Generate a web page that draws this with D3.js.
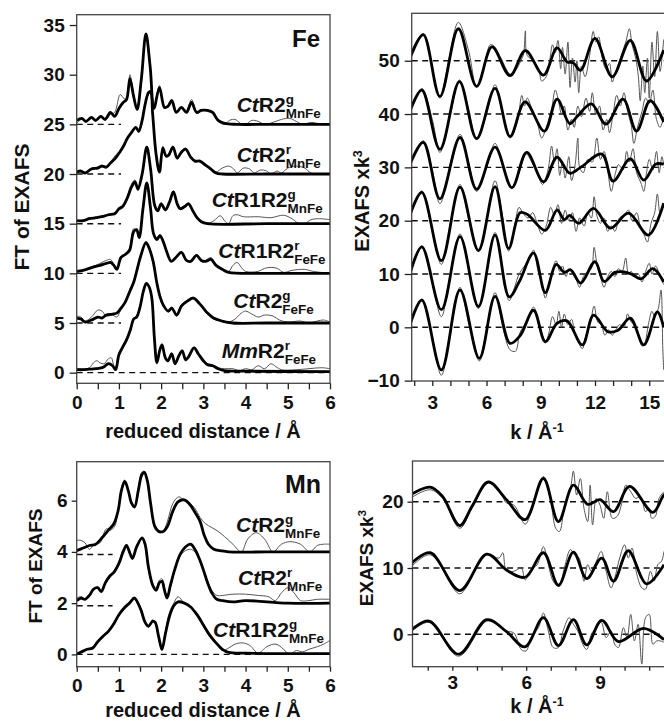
<!DOCTYPE html>
<html><head><meta charset="utf-8">
<script src="https://cdn.jsdelivr.net/npm/d3@7"></script>
<style>
body{margin:0;background:#fff}
text{font-family:"Liberation Sans",Arial,Helvetica,sans-serif;font-weight:bold;fill:#111}
</style></head><body>
<svg id="c" width="664" height="721"></svg>
<script>
// ---------- Fe FT (r in Å, amplitude incl. offset) ----------
const feFtOffsets = [25, 20, 15, 10, 5, 0];
const feFtLabels = [
  [["Ct","i"],["R2","n"],["g","sup"],["MnFe","sub"]],
  [["Ct","i"],["R2","n"],["r","sup"],["MnFe","sub"]],
  [["Ct","i"],["R1R2","n"],["g","sup"],["MnFe","sub"]],
  [["Ct","i"],["R1R2","n"],["r","sup"],["FeFe","sub"]],
  [["Ct","i"],["R2","n"],["g","sup"],["FeFe","sub"]],
  [["Mm","i"],["R2","n"],["r","sup"],["FeFe","sub"]]
];
const feFtFit1 = [[0,25.4],[0.12,25.6],[0.22,25.3],[0.35,25.7],[0.45,25.4],[0.57,25.8],[0.67,25.5],[0.8,26.2],[0.9,25.8],[1.0,26.6],[1.1,27.2],[1.18,27.5],[1.26,29.6],[1.34,28.0],[1.43,26.5],[1.53,29.5],[1.64,34.1],[1.74,30.8],[1.83,26.6],[1.96,28.7],[2.08,26.7],[2.16,26.8],[2.25,27.4],[2.36,26.2],[2.48,26.7],[2.6,26.2],[2.72,27.2],[2.84,26.2],[2.95,26.4],[3.1,26.4],[3.22,26.2],[3.35,25.4],[3.5,25.1],[3.8,25.0],[4.5,25.0],[5.2,25.0],[6.0,25.0]];
const feFtData1 = [[0,25.1],[0.12,25.5],[0.22,25.2],[0.35,25.6],[0.45,25.3],[0.57,25.9],[0.67,25.4],[0.8,26.0],[0.9,26.2],[1.03,28.0],[1.12,27.6],[1.18,27.6],[1.26,30.0],[1.34,28.2],[1.43,26.4],[1.53,29.3],[1.64,34.0],[1.74,30.6],[1.83,26.8],[1.96,28.9],[2.08,26.8],[2.16,26.9],[2.25,27.3],[2.36,26.3],[2.48,26.7],[2.6,26.4],[2.72,27.5],[2.84,26.3],[2.95,26.5],[3.1,26.3],[3.22,26.1],[3.35,25.3],[3.5,25.0],[3.62,25.4],[3.75,25.5],[3.88,25.1],[4.0,25.0],[4.15,25.4],[4.3,25.3],[4.45,25.0],[4.65,25.2],[4.85,25.5],[5.05,25.6],[5.2,25.3],[5.35,25.0],[5.55,25.2],[5.7,25.1],[5.85,24.95],[6.0,25.0]];
const feFtFit2 = [[0,20.2],[0.1,20.3],[0.2,20.1],[0.35,20.5],[0.5,20.6],[0.6,20.8],[0.7,20.7],[0.8,21.1],[0.92,21.6],[1.02,22.2],[1.12,22.9],[1.2,23.6],[1.3,24.2],[1.4,24.7],[1.47,24.3],[1.55,25.4],[1.62,27.0],[1.7,28.2],[1.75,28.3],[1.8,26.0],[1.88,22.0],[1.96,20.2],[2.04,22.6],[2.12,21.8],[2.18,21.9],[2.28,22.7],[2.38,21.6],[2.48,22.2],[2.58,22.5],[2.7,21.7],[2.8,21.3],[2.92,21.3],[3.05,20.9],[3.18,20.5],[3.3,20.1],[3.45,20.0],[4.5,20.0],[6.0,20.0]];
const feFtData2 = [[0,20.3],[0.2,20.2],[0.35,20.6],[0.5,20.7],[0.6,20.9],[0.7,20.6],[0.8,21.2],[0.92,21.9],[1.02,22.3],[1.12,23.0],[1.2,23.5],[1.3,24.3],[1.4,24.6],[1.47,24.2],[1.55,25.3],[1.62,26.9],[1.7,28.0],[1.75,28.2],[1.8,26.1],[1.88,22.1],[1.96,20.4],[2.04,22.8],[2.12,21.7],[2.18,22.0],[2.28,22.8],[2.38,21.5],[2.48,22.3],[2.58,22.6],[2.7,21.6],[2.8,21.4],[2.92,21.2],[3.05,21.0],[3.18,20.5],[3.3,20.2],[3.45,20.6],[3.6,20.8],[3.72,20.5],[3.8,20.1],[3.95,20.6],[4.1,20.5],[4.2,20.1],[4.35,20.4],[4.5,20.3],[4.6,20.0],[4.75,20.3],[4.85,20.1],[5.0,20.6],[5.2,20.8],[5.4,20.6],[5.55,20.1],[5.75,20.05],[6.0,20.0]];
const feFtFit3 = [[0,15.3],[0.15,15.3],[0.3,15.5],[0.45,15.6],[0.6,15.7],[0.75,15.9],[0.9,16.0],[1.0,16.5],[1.1,16.8],[1.2,17.6],[1.3,18.7],[1.38,19.2],[1.45,18.5],[1.55,20.0],[1.66,22.7],[1.75,20.5],[1.85,16.8],[1.92,16.3],[2.0,17.0],[2.1,16.4],[2.2,17.2],[2.29,18.2],[2.38,17.0],[2.45,16.5],[2.55,16.7],[2.65,17.0],[2.75,16.3],[2.85,15.6],[2.95,15.2],[3.1,15.0],[4.5,15.0],[6.0,15.0]];
const feFtData3 = [[0,15.2],[0.15,15.3],[0.3,15.6],[0.45,15.5],[0.6,15.8],[0.75,15.8],[0.9,16.1],[1.0,16.4],[1.1,16.6],[1.2,17.8],[1.3,19.0],[1.38,19.4],[1.45,18.3],[1.55,20.1],[1.66,22.6],[1.75,20.4],[1.85,16.9],[1.92,16.4],[2.0,17.1],[2.1,16.3],[2.2,17.3],[2.29,18.3],[2.38,16.9],[2.45,16.6],[2.55,16.8],[2.65,17.1],[2.75,16.2],[2.85,15.6],[2.95,15.3],[3.1,15.05],[3.25,15.3],[3.4,15.8],[3.52,15.2],[3.6,15.0],[3.7,15.8],[3.8,15.9],[3.95,15.7],[4.3,15.7],[4.6,15.6],[4.9,15.85],[5.1,15.5],[5.25,15.05],[5.4,15.0],[5.55,15.4],[5.75,15.5],[6.0,15.4]];
const feFtFit4 = [[0,10.2],[0.15,10.3],[0.3,10.5],[0.45,10.7],[0.55,10.8],[0.7,11.0],[0.8,11.1],[0.88,10.8],[0.95,10.4],[1.05,11.6],[1.15,11.9],[1.25,12.3],[1.35,14.2],[1.42,14.4],[1.48,13.6],[1.57,16.5],[1.66,19.1],[1.75,16.5],[1.82,14.0],[1.9,13.4],[1.97,13.8],[2.05,13.2],[2.13,12.2],[2.24,11.2],[2.35,11.6],[2.48,12.1],[2.6,11.3],[2.7,11.2],[2.84,11.8],[2.95,11.3],[3.05,11.2],[3.18,11.4],[3.3,10.8],[3.45,10.4],[3.6,10.1],[4.5,10.0],[6.0,10.0]];
const feFtData4 = [[0,10.1],[0.15,10.3],[0.3,10.6],[0.45,10.8],[0.55,11.0],[0.7,11.3],[0.8,11.4],[0.88,10.9],[0.95,10.4],[1.05,11.5],[1.15,12.0],[1.25,12.5],[1.35,14.5],[1.42,14.3],[1.48,13.5],[1.57,16.6],[1.66,19.0],[1.75,16.4],[1.82,14.1],[1.9,13.6],[1.97,13.9],[2.05,13.1],[2.13,12.1],[2.24,11.3],[2.35,11.7],[2.48,12.2],[2.6,11.2],[2.7,11.3],[2.84,11.9],[2.95,11.2],[3.05,11.3],[3.18,11.6],[3.3,10.9],[3.45,10.5],[3.6,10.2],[3.7,10.8],[3.8,11.1],[3.9,10.6],[4.0,10.2],[4.3,10.2],[4.45,10.5],[4.6,10.6],[4.75,10.5],[4.9,10.1],[5.1,10.3],[5.4,10.4],[5.6,10.2],[6.0,10.0]];
const feFtFit5 = [[0,5.5],[0.1,5.4],[0.2,5.1],[0.35,5.3],[0.5,5.6],[0.6,5.5],[0.7,5.8],[0.85,5.9],[0.95,6.0],[1.05,6.5],[1.15,7.1],[1.26,8.2],[1.35,9.1],[1.42,10.2],[1.52,11.8],[1.64,13.1],[1.72,12.5],[1.81,11.2],[1.9,9.0],[1.97,7.7],[2.05,6.8],[2.17,6.2],[2.25,6.5],[2.37,5.8],[2.48,6.7],[2.62,7.2],[2.76,7.5],[2.9,7.0],[3.0,6.5],[3.1,6.0],[3.24,5.5],[3.44,5.2],[3.7,5.0],[4.5,5.0],[6.0,5.0]];
const feFtData5 = [[0,5.7],[0.1,5.6],[0.2,5.2],[0.35,5.6],[0.5,6.3],[0.6,6.2],[0.7,5.7],[0.85,5.8],[0.95,5.6],[1.05,6.4],[1.15,7.2],[1.26,8.4],[1.35,9.2],[1.42,10.3],[1.52,11.9],[1.64,13.2],[1.72,12.6],[1.81,11.1],[1.9,9.1],[1.97,7.9],[2.05,7.0],[2.17,6.1],[2.25,6.6],[2.37,5.7],[2.48,6.8],[2.62,7.3],[2.76,7.6],[2.9,7.1],[3.0,6.4],[3.1,5.9],[3.24,5.4],[3.44,5.2],[3.6,5.1],[3.75,5.4],[3.9,6.0],[4.0,6.2],[4.15,5.9],[4.3,5.6],[4.45,5.8],[4.65,5.7],[4.8,5.3],[5.0,5.1],[5.3,5.2],[5.5,5.0],[5.7,5.2],[5.85,5.3],[6.0,5.1]];
const feFtFit6 = [[0,0.3],[0.15,0.3],[0.3,0.35],[0.45,0.4],[0.55,0.45],[0.65,0.6],[0.75,0.9],[0.85,0.7],[0.92,0.3],[1.0,1.8],[1.08,2.5],[1.18,3.3],[1.27,4.3],[1.35,5.4],[1.42,5.6],[1.5,6.6],[1.58,8.2],[1.65,9.0],[1.72,8.6],[1.78,7.5],[1.84,3.5],[1.9,1.0],[1.97,2.3],[2.02,2.8],[2.1,1.5],[2.16,1.2],[2.25,1.9],[2.33,0.9],[2.42,1.7],[2.5,2.2],[2.58,1.3],[2.65,1.6],[2.78,2.5],[2.88,1.9],[3.0,1.2],[3.1,0.8],[3.22,0.7],[3.35,0.4],[3.5,0.2],[4.0,0.15],[6.0,0.1]];
const feFtData6 = [[0,0.4],[0.15,0.35],[0.3,0.5],[0.4,1.0],[0.48,1.2],[0.55,1.0],[0.65,0.9],[0.75,1.4],[0.82,1.5],[0.9,0.3],[1.0,1.9],[1.08,2.6],[1.18,3.4],[1.27,4.4],[1.35,5.5],[1.42,5.7],[1.5,6.7],[1.58,8.1],[1.65,8.9],[1.72,8.5],[1.78,7.4],[1.84,3.6],[1.9,1.1],[1.97,2.4],[2.02,2.9],[2.1,1.6],[2.16,1.1],[2.25,2.0],[2.33,0.8],[2.42,1.8],[2.5,2.3],[2.58,1.2],[2.65,1.7],[2.78,2.6],[2.88,1.8],[3.0,1.1],[3.1,0.9],[3.22,0.8],[3.35,0.5],[3.5,0.4],[3.7,0.4],[3.85,0.2],[4.0,0.4],[4.15,0.3],[4.3,0.7],[4.45,0.4],[4.6,0.9],[4.72,0.6],[4.85,0.3],[5.2,0.3],[5.5,0.4],[5.8,0.5],[6.0,0.4]];

// ---------- Fe EXAFS (k in 1/Å, k^3 chi incl. offset) ----------
const feExOffsets = [50, 40, 30, 20, 10, 0];
const feExFit1 = [[1.77,50.5],[2.5,54.9],[3.42,43.3],[4.44,56.0],[5.45,45.2],[6.3,52.6],[7.3,47.2],[8.15,51.9],[9.15,47.3],[9.9,52.4],[10.45,49.8],[10.8,49.6],[11.2,48.2],[12.0,54.2],[12.95,47.0],[13.95,53.8],[14.85,46.2],[15.8,52.0]];
const feExData1 = [[1.77,51.0],[2.1,53.5],[2.5,55.0],[2.9,50.5],[3.42,43.0],[3.9,50.0],[4.44,57.2],[5.0,52.0],[5.45,45.0],[5.9,49.5],[6.2,53.0],[6.4,52.8],[6.8,50.5],[7.3,47.5],[7.6,48.2],[7.9,50.0],[8.05,51.3],[8.15,55.6],[8.25,51.0],[8.6,50.0],[8.9,48.2],[9.05,46.2],[9.3,47.0],[9.5,50.2],[9.65,53.0],[9.8,51.5],[9.95,53.8],[10.1,48.5],[10.2,52.5],[10.35,47.5],[10.5,53.5],[10.62,45.0],[10.75,50.5],[10.9,46.0],[11.0,50.0],[11.1,44.0],[11.25,49.0],[11.45,47.0],[11.7,51.0],[11.9,55.5],[12.05,53.5],[12.2,54.5],[12.4,50.5],[12.6,48.5],[12.8,49.5],[12.95,46.0],[13.15,48.0],[13.4,50.5],[13.7,53.5],[13.9,56.0],[14.05,53.0],[14.25,50.5],[14.4,47.0],[14.5,42.5],[14.65,49.0],[14.75,44.0],[14.9,50.5],[15.0,43.0],[15.15,53.5],[15.3,47.0],[15.45,55.5],[15.6,48.0],[15.8,54.0]];
const feExFit2 = [[1.77,40.6],[2.42,44.5],[3.42,33.4],[4.5,46.1],[5.45,35.4],[6.47,44.8],[7.3,35.8],[8.13,42.3],[9.2,36.8],[9.9,42.8],[10.6,38.2],[11.0,39.5],[11.8,41.9],[12.6,38.1],[13.55,42.8],[14.3,36.8],[15.05,42.5],[15.8,38.5]];
const feExData2 = [[1.77,40.4],[2.42,44.8],[3.0,39.0],[3.42,32.8],[4.0,40.0],[4.5,46.4],[5.0,41.0],[5.45,35.2],[6.0,40.0],[6.47,45.5],[6.9,40.0],[7.3,35.5],[7.7,38.5],[7.95,43.5],[8.1,41.5],[8.25,43.0],[8.5,41.0],[8.8,38.5],[9.05,35.5],[9.3,37.5],[9.6,41.0],[9.8,44.5],[9.95,43.0],[10.15,40.0],[10.3,41.5],[10.5,37.0],[10.7,39.0],[10.85,37.5],[11.05,41.5],[11.25,39.5],[11.5,43.0],[11.7,40.5],[11.85,44.0],[12.05,40.0],[12.25,41.5],[12.45,37.0],[12.65,39.0],[12.8,36.5],[13.0,40.0],[13.2,43.5],[13.4,41.5],[13.6,44.0],[13.8,40.5],[14.0,38.0],[14.15,34.5],[14.35,37.5],[14.6,40.5],[14.8,43.0],[15.0,42.0],[15.2,44.5],[15.4,39.0],[15.6,37.5],[15.8,39.5]];
const feExFit3 = [[1.77,30.6],[2.5,34.7],[3.42,24.1],[4.53,35.6],[5.45,25.9],[6.47,33.8],[7.4,26.2],[8.22,32.8],[9.15,27.3],[9.9,31.9],[10.6,28.9],[11.2,30.0],[12.38,32.5],[13.0,27.4],[13.95,31.6],[14.7,27.6],[15.35,30.6],[15.8,30.6]];
const feExData3 = [[1.77,30.8],[2.5,35.0],[3.0,29.5],[3.42,23.2],[4.0,30.0],[4.53,36.2],[5.0,31.0],[5.45,25.5],[6.0,30.0],[6.47,34.5],[7.0,29.0],[7.4,26.0],[7.8,29.0],[8.2,32.5],[8.5,31.0],[8.8,29.0],[9.1,26.8],[9.4,29.5],[9.6,34.0],[9.75,31.0],[9.9,33.5],[10.05,28.5],[10.2,31.0],[10.35,28.0],[10.55,32.0],[10.7,27.5],[10.9,30.5],[11.05,35.5],[11.15,30.0],[11.35,29.0],[11.6,31.5],[11.85,31.0],[12.1,35.5],[12.3,31.5],[12.5,33.0],[12.7,29.5],[12.9,25.5],[13.1,28.5],[13.3,30.5],[13.55,29.5],[13.75,33.0],[13.9,31.0],[14.1,33.5],[14.3,29.0],[14.55,27.0],[14.7,25.5],[14.85,29.0],[15.0,31.5],[15.2,29.5],[15.4,33.0],[15.55,29.0],[15.7,32.0],[15.8,30.5]];
const feExFit4 = [[1.77,21.1],[2.42,25.3],[3.5,12.5],[4.53,26.3],[5.55,14.4],[6.47,26.4],[7.22,14.8],[7.85,21.5],[8.25,21.2],[9.25,18.2],[9.9,22.0],[10.3,20.2],[10.6,21.0],[11.1,19.5],[11.92,22.3],[12.85,18.6],[13.85,21.4],[14.95,17.3],[15.8,23.3]];
const feExData4 = [[1.77,21.0],[2.42,25.6],[3.0,18.0],[3.5,11.8],[4.0,19.5],[4.53,26.8],[5.0,20.5],[5.55,14.2],[6.0,20.0],[6.47,27.5],[6.9,20.5],[7.22,14.3],[7.5,18.0],[7.8,22.5],[8.0,21.5],[8.3,20.5],[8.55,21.5],[8.8,19.5],[9.05,17.5],[9.3,19.0],[9.55,22.5],[9.75,21.0],[9.95,23.0],[10.15,19.5],[10.35,22.0],[10.55,20.0],[10.75,21.5],[10.95,18.0],[11.15,20.5],[11.4,19.0],[11.6,21.5],[11.8,20.5],[11.95,24.5],[12.1,21.0],[12.3,19.5],[12.5,20.5],[12.7,18.0],[12.9,19.0],[13.1,18.0],[13.35,20.5],[13.6,21.0],[13.85,22.0],[14.05,20.0],[14.3,21.5],[14.5,19.0],[14.7,17.5],[14.9,16.0],[15.1,19.5],[15.3,21.5],[15.45,25.0],[15.6,21.5],[15.8,23.0]];
const feExFit5 = [[1.77,10.1],[2.42,15.1],[3.5,3.3],[4.53,17.0],[5.55,3.9],[6.47,17.3],[7.25,5.7],[7.8,8.5],[8.6,13.9],[9.25,6.5],[9.85,11.8],[10.3,10.3],[10.65,10.8],[11.2,8.3],[12.0,12.3],[12.5,8.6],[13.1,10.3],[13.6,10.4],[14.0,10.0],[14.55,9.1],[15.2,11.0],[15.8,8.5]];
const feExData5 = [[1.77,10.0],[2.42,15.3],[3.0,8.5],[3.5,2.0],[4.0,10.0],[4.53,17.5],[5.0,11.0],[5.55,3.5],[6.0,10.0],[6.47,17.8],[6.9,10.5],[7.25,5.0],[7.55,7.5],[7.8,10.0],[8.1,11.5],[8.4,13.0],[8.6,14.5],[8.85,10.5],[9.05,8.5],[9.25,5.5],[9.45,8.0],[9.7,11.5],[9.85,12.5],[10.05,10.5],[10.2,11.5],[10.4,9.5],[10.55,11.0],[10.75,10.0],[10.95,9.0],[11.15,7.5],[11.35,9.5],[11.6,10.5],[11.8,11.0],[11.95,15.0],[12.1,12.0],[12.3,9.5],[12.5,7.5],[12.7,9.5],[12.9,10.5],[13.1,9.5],[13.3,11.0],[13.5,10.5],[13.7,13.0],[13.85,10.0],[14.0,10.5],[14.2,9.5],[14.4,10.0],[14.6,8.5],[14.8,10.5],[15.0,12.0],[15.15,10.0],[15.35,11.5],[15.55,10.0],[15.8,8.0]];
const feExFit6 = [[1.77,0.5],[2.42,5.1],[3.5,-8.0],[4.53,7.0],[5.6,-5.8],[6.47,5.8],[7.3,-3.0],[7.85,-1.6],[8.6,3.2],[9.25,-2.7],[9.9,0.75],[10.45,1.2],[11.3,-3.3],[11.92,2.3],[12.7,-0.8],[13.25,-0.6],[13.95,1.7],[14.7,-3.3],[15.45,2.9],[15.8,0.0]];
const feExData6 = [[1.77,0.3],[2.42,5.3],[3.0,-2.0],[3.5,-9.0],[4.0,-1.0],[4.53,7.5],[5.0,1.0],[5.6,-6.3],[6.0,-1.0],[6.47,6.5],[6.9,0.0],[7.3,-4.2],[7.6,-4.5],[7.85,-1.0],[8.2,1.0],[8.6,3.8],[8.85,1.5],[9.05,-1.0],[9.25,-3.0],[9.45,-1.0],[9.65,2.0],[9.85,0.5],[10.0,3.0],[10.15,0.0],[10.3,2.5],[10.5,0.5],[10.7,1.5],[10.9,-1.5],[11.1,-3.0],[11.3,-4.0],[11.5,-1.5],[11.75,1.0],[11.95,4.0],[12.15,1.0],[12.35,0.5],[12.55,-1.5],[12.75,-0.5],[12.95,-1.5],[13.15,-0.5],[13.35,0.5],[13.6,0.0],[13.8,2.5],[14.0,1.0],[14.2,0.5],[14.4,-1.5],[14.6,-3.5],[14.75,-3.0],[14.95,0.5],[15.15,3.0],[15.3,2.0],[15.5,3.5],[15.65,7.0],[15.75,-4.0],[15.8,-8.0]];

// ---------- Mn FT ----------
const mnFtOffsets = [3.9, 1.9, 0];
const mnFtLabels = [
  [["Ct","i"],["R2","n"],["g","sup"],["MnFe","sub"]],
  [["Ct","i"],["R2","n"],["r","sup"],["MnFe","sub"]],
  [["Ct","i"],["R1R2","n"],["g","sup"],["MnFe","sub"]]
];
const mnFtFit1 = [[0,4.05],[0.15,4.15],[0.3,4.25],[0.45,4.3],[0.6,4.55],[0.75,4.85],[0.88,5.1],[0.98,5.6],[1.06,6.4],[1.14,6.75],[1.22,6.4],[1.3,5.9],[1.37,5.75],[1.46,6.4],[1.54,7.0],[1.6,7.1],[1.67,6.8],[1.75,5.9],[1.85,5.0],[1.95,4.8],[2.05,4.8],[2.15,5.0],[2.28,5.6],[2.4,5.95],[2.55,6.03],[2.68,5.85],[2.8,5.55],[2.92,5.2],[3.02,4.65],[3.12,4.3],[3.25,4.1],[3.4,4.05],[3.6,4.0],[4.5,4.0],[6.0,4.0]];
const mnFtData1 = [[0,4.45],[0.1,4.45],[0.2,4.35],[0.3,4.1],[0.42,4.3],[0.55,4.35],[0.7,4.9],[0.8,4.85],[0.9,5.0],[0.98,5.6],[1.06,6.5],[1.13,6.8],[1.22,6.4],[1.3,5.85],[1.37,5.8],[1.46,6.5],[1.54,7.1],[1.6,7.15],[1.67,6.85],[1.75,5.9],[1.85,4.9],[1.95,4.75],[2.05,4.8],[2.15,5.2],[2.28,5.9],[2.42,6.15],[2.55,6.0],[2.68,5.9],[2.8,5.7],[2.92,5.35],[3.05,5.1],[3.2,4.95],[3.35,4.8],[3.5,4.6],[3.7,4.3],[3.9,4.0],[4.05,4.5],[4.25,4.75],[4.45,4.5],[4.65,4.0],[4.85,4.3],[5.05,4.4],[5.3,4.3],[5.52,4.0],[5.7,4.25],[5.85,4.3],[6.0,4.3]];
const mnFtFit2 = [[0,2.1],[0.1,2.2],[0.2,2.15],[0.3,2.3],[0.4,2.55],[0.5,2.6],[0.58,2.45],[0.68,2.8],[0.78,3.05],[0.88,3.2],[1.0,3.55],[1.1,4.0],[1.18,4.25],[1.26,3.95],[1.32,3.75],[1.42,4.2],[1.55,4.55],[1.62,4.3],[1.7,3.4],[1.8,2.7],[1.88,2.5],[1.96,2.8],[2.02,2.85],[2.08,2.5],[2.14,2.2],[2.22,2.7],[2.32,3.3],[2.45,3.9],[2.58,4.2],[2.7,4.3],[2.8,4.1],[2.9,3.75],[3.0,3.3],[3.1,2.8],[3.2,2.4],[3.32,2.15],[3.45,2.1],[3.7,2.05],[4.0,2.1],[5.0,2.0],[6.0,2.0]];
const mnFtData2 = [[0,2.2],[0.1,2.25],[0.2,2.15],[0.3,2.35],[0.4,2.5],[0.5,2.65],[0.58,2.5],[0.68,2.75],[0.78,3.0],[0.88,3.25],[1.0,3.6],[1.1,4.1],[1.18,4.2],[1.26,3.9],[1.32,3.7],[1.42,4.25],[1.55,4.5],[1.62,4.2],[1.7,3.3],[1.8,2.7],[1.88,2.6],[1.96,2.9],[2.02,2.95],[2.08,2.6],[2.14,2.25],[2.22,2.6],[2.32,3.3],[2.45,3.85],[2.58,4.05],[2.7,4.1],[2.8,4.0],[2.9,3.7],[3.0,3.3],[3.1,2.85],[3.2,2.5],[3.32,2.3],[3.45,2.3],[3.7,2.35],[4.0,2.35],[4.3,2.3],[4.55,2.25],[4.7,2.1],[4.85,2.4],[5.0,2.6],[5.15,2.4],[5.3,2.1],[5.5,2.1],[5.7,2.15],[6.0,2.15]];
const mnFtFit3 = [[0,0.02],[0.12,0.1],[0.25,0.2],[0.38,0.25],[0.5,0.5],[0.62,0.7],[0.75,0.9],[0.88,1.2],[1.0,1.55],[1.12,1.8],[1.25,2.0],[1.37,2.2],[1.45,2.0],[1.53,1.7],[1.62,1.25],[1.7,1.1],[1.8,1.3],[1.86,1.25],[1.94,0.7],[2.02,0.2],[2.1,0.8],[2.2,1.5],[2.3,1.9],[2.4,2.05],[2.55,2.0],[2.7,1.85],[2.85,1.55],[3.0,1.15],[3.15,0.75],[3.3,0.45],[3.45,0.2],[3.6,0.08],[4.0,0.05],[6.0,0.03]];
const mnFtData3 = [[0,0.0],[0.12,0.15],[0.25,0.2],[0.38,0.3],[0.5,0.45],[0.62,0.75],[0.75,0.9],[0.88,1.25],[1.0,1.5],[1.12,1.85],[1.25,2.05],[1.37,2.15],[1.45,2.0],[1.53,1.6],[1.62,1.2],[1.7,1.05],[1.8,1.35],[1.86,1.2],[1.94,0.65],[2.02,0.15],[2.1,0.9],[2.2,1.65],[2.3,2.0],[2.4,2.25],[2.55,2.0],[2.7,1.85],[2.85,1.6],[3.0,1.2],[3.15,0.8],[3.3,0.45],[3.45,0.15],[3.6,0.25],[3.75,0.4],[3.93,0.45],[4.1,0.35],[4.3,0.05],[4.5,0.3],[4.72,0.4],[4.9,0.2],[5.04,0.0],[5.2,0.15],[5.35,0.1],[5.5,0.2],[5.7,0.3],[5.85,0.4],[6.0,0.55]];

// ---------- Mn EXAFS ----------
const mnExOffsets = [20, 10, 0];
const mnExFit1 = [[1.28,21.0],[2.1,22.2],[2.6,20.8],[3.3,16.4],[3.8,19.3],[4.46,23.0],[5.2,20.3],[5.96,17.3],[6.7,23.5],[7.31,17.0],[7.92,22.5],[8.5,19.6],[9.0,20.3],[9.55,18.5],[10.2,22.3],[11.15,18.4],[11.6,21.0],[12.0,22.0]];
const mnExData1 = [[1.28,20.5],[2.1,21.8],[2.6,20.5],[3.3,16.0],[3.8,19.0],[4.46,22.8],[5.0,21.0],[5.2,19.8],[5.5,19.5],[5.96,16.6],[6.2,18.5],[6.7,23.8],[7.0,20.0],[7.2,16.0],[7.35,15.5],[7.55,19.0],[7.8,22.0],[7.92,24.6],[8.05,21.0],[8.2,23.5],[8.35,19.0],[8.5,17.0],[8.6,22.5],[8.7,16.5],[8.85,20.5],[9.0,19.5],[9.15,17.5],[9.3,21.5],[9.5,17.5],[9.7,17.8],[9.9,20.0],[10.05,22.5],[10.25,21.5],[10.45,20.5],[10.65,20.8],[10.85,18.5],[11.0,19.0],[11.1,17.5],[11.25,17.8],[11.4,20.5],[11.6,21.5]];
const mnExFit2 = [[1.28,10.5],[2.1,12.3],[3.3,6.6],[4.4,12.1],[5.2,9.7],[5.96,8.6],[6.7,12.3],[7.31,7.4],[7.92,12.4],[8.46,8.4],[9.07,11.5],[9.55,8.0],[10.15,12.6],[10.9,7.6],[11.6,10.5]];
const mnExData2 = [[1.28,10.0],[2.1,12.0],[3.3,6.1],[3.8,9.0],[4.4,12.0],[4.9,11.5],[5.05,12.3],[5.2,9.5],[5.5,9.5],[5.8,10.0],[5.96,8.2],[6.2,9.8],[6.45,10.5],[6.7,13.2],[6.9,10.5],[7.1,8.0],[7.35,7.2],[7.55,10.0],[7.8,12.8],[7.95,12.0],[8.15,11.5],[8.35,8.0],[8.5,10.5],[8.65,9.5],[8.85,11.0],[9.05,12.5],[9.25,9.5],[9.45,7.0],[9.6,8.5],[9.8,11.5],[10.0,13.5],[10.15,11.5],[10.3,13.0],[10.5,9.0],[10.7,7.0],[10.85,6.8],[11.05,9.5],[11.2,8.0],[11.35,10.5],[11.5,11.0],[11.6,12.5]];
const mnExFit3 = [[1.28,0.5],[2.05,2.0],[3.25,-3.0],[4.4,2.2],[5.2,0.4],[5.95,-1.9],[6.7,2.5],[7.31,-1.7],[7.92,2.2],[8.46,-1.6],[9.07,2.1],[9.75,-1.1],[10.77,0.9],[11.6,-0.8]];
const mnExData3 = [[1.28,0.2],[2.05,1.8],[3.25,-3.3],[4.4,2.0],[4.9,1.3],[5.2,0.5],[5.5,0.2],[5.8,-2.3],[6.0,-2.5],[6.2,-0.5],[6.5,1.0],[6.7,3.2],[6.9,0.5],[7.1,-2.0],[7.31,-2.0],[7.5,0.5],[7.75,2.5],[7.92,1.5],[8.1,0.5],[8.3,-1.5],[8.46,-2.3],[8.65,0.0],[8.85,1.0],[9.05,1.8],[9.25,-0.5],[9.45,0.5],[9.6,-1.5],[9.75,-2.0],[9.95,1.0],[10.1,-0.5],[10.25,3.0],[10.4,-1.0],[10.55,1.5],[10.7,-4.5],[10.85,2.5],[11.0,3.0],[11.15,-1.5],[11.3,-1.0],[11.45,-1.0],[11.6,-1.2]];

// ---------- tick values ----------
const feFtYTicks = [0,5,10,15,20,25,30,35];
const ftXTicks = [0,0.5,1,1.5,2,2.5,3,3.5,4,4.5,5,5.5,6];
const feExYTicks = [-10,0,10,20,30,40,50];
const feExXTicks = [2,3,4,5,6,7,8,9,10,11,12,13,14,15,16];
const feExXLabels = [3,6,9,12,15];
const mnFtYTicks = [0,2,4,6];
const mnExYTicks = [0,10,20];
const mnExXTicks = [2,3,4,5,6,7,8,9,10,11,12];
const mnExXLabels = [3,6,9];

const svg = d3.select('#c');
const defs = svg.append('defs');

function styleLabel(sel, size){ sel.style('font-size', size+'px').style('font-weight','bold').style('font-family','"Liberation Sans",Arial,sans-serif').attr('fill','#111'); }

function drawPanel(p){
  const xs = d3.scaleLinear().domain(p.xd).range([p.x0, p.x1]);
  const ys = d3.scaleLinear().domain(p.yd).range([p.y1, p.y0]);
  const cid = 'clip-' + p.id;
  defs.append('clipPath').attr('id', cid).append('rect')
    .attr('x', p.x0).attr('y', p.y0).attr('width', p.x1 - p.x0).attr('height', p.y1 - p.y0);
  const g = svg.append('g');
  const plot = g.append('g').attr('clip-path', 'url(#' + cid + ')');
  const line = d3.line().x(d => xs(d[0])).y(d => ys(d[1])).curve(d3.curveCatmullRom.alpha(0.5));
  p.dashes.forEach(d => {
    plot.append('line').attr('x1', xs(d[1])).attr('x2', xs(d[2])).attr('y1', ys(d[0])).attr('y2', ys(d[0]))
      .attr('stroke', '#111').attr('stroke-width', 1.4).attr('stroke-dasharray', '6,4.5');
  });
  p.thin.forEach(s => plot.append('path').datum(s).attr('d', line).attr('fill','none').attr('stroke','#555').attr('stroke-width',1.0));
  p.thick.forEach(s => plot.append('path').datum(s).attr('d', line).attr('fill','none').attr('stroke','#000').attr('stroke-width',2.8).attr('stroke-linejoin','round'));
  g.append('rect').attr('x', p.x0).attr('y', p.y0).attr('width', p.x1 - p.x0).attr('height', p.y1 - p.y0)
    .attr('fill','none').attr('stroke','#444').attr('stroke-width',1.3);
  const ya = g.append('g').attr('transform','translate(' + p.x0 + ',0)')
    .call(d3.axisLeft(ys).tickValues(p.yTicks).tickSize(p.yTickLen).tickPadding(p.yPad).tickSizeOuter(0));
  ya.select('.domain').remove();
  ya.selectAll('line').attr('stroke','#222').attr('stroke-width',1.3);
  styleLabel(ya.selectAll('text'), 19);
  const xa = g.append('g').attr('transform','translate(0,' + p.y1 + ')')
    .call(d3.axisBottom(xs).tickValues(p.xTicks).tickSize(p.xTickLen).tickSizeOuter(0)
      .tickFormat(v => p.xLabels.includes(v) ? String(v) : ''));
  xa.select('.domain').remove();
  xa.selectAll('line').attr('stroke','#222').attr('stroke-width',1.3);
  xa.selectAll('text').attr('y', p.xLabelY).attr('dy', null);
  styleLabel(xa.selectAll('text'), 19);
  return {xs, ys, g};
}

function richLabel(x, y, parts, size){
  const t = svg.append('text').attr('x', x).attr('y', y);
  styleLabel(t, size);
  let lastSup = null, shift = 0;
  parts.forEach(pt => {
    const s = t.append('tspan').text(pt[0]);
    if (pt[1] === 'i') s.style('font-style','italic');
    if (pt[1] === 'sup') { s.style('font-size', (size*0.64)+'px').attr('dy', -8 - shift); shift = -8; lastSup = s; }
    else if (pt[1] === 'sub') {
      s.style('font-size', (size*0.64)+'px').attr('dy', 6 - shift); shift = 6;
      if (lastSup) s.attr('dx', -lastSup.node().getComputedTextLength());
    } else if (shift !== 0) { s.attr('dy', -shift); shift = 0; }
  });
  return t;
}

function rotLabel(cx, cy, size, main, sup){
  const t = svg.append('text').attr('transform','translate(' + cx + ',' + cy + ') rotate(-90)')
    .attr('text-anchor','middle').attr('dy','0.36em');
  styleLabel(t, size);
  t.append('tspan').text(main);
  if (sup) t.append('tspan').text(sup).style('font-size',(size*0.62)+'px').attr('dy','-0.55em');
  return t;
}

// ---- Panel A: Fe FT ----
drawPanel({id:'a', x0:76.7, x1:330, y0:14.7, y1:383.3, xd:[0,6], yd:[-1.07,36.04],
  thin:[feFtData1,feFtData2,feFtData3,feFtData4,feFtData5,feFtData6],
  thick:[feFtFit1,feFtFit2,feFtFit3,feFtFit4,feFtFit5,feFtFit6],
  dashes: feFtOffsets.map(o => o === 0 ? [0,0,6] : [o,0,1.05]),
  yTicks:feFtYTicks, yTickLen:7, yPad:5, xTicks:ftXTicks, xLabels:[0,1,2,3,4,5,6], xTickLen:6, xLabelY:25.5});
const feLabelPos = [[236.7,111.7],[236.7,161.7],[211.7,207],[218.3,258],[233.3,308],[221.7,358]];
feFtLabels.forEach((l,i) => richLabel(feLabelPos[i][0], feLabelPos[i][1], l, 21));
{ const t = svg.append('text').attr('x', 320).attr('y', 46.5).attr('text-anchor','end').text('Fe'); styleLabel(t, 24); }
rotLabel(21, 207, 21, 'FT of EXAFS');
{ const t = svg.append('text').attr('x', 203).attr('y', 438).attr('text-anchor','middle').text('reduced distance / Å'); styleLabel(t, 20); }

// ---- Panel B: Fe EXAFS ----
drawPanel({id:'b', x0:411.7, x1:685.4, y0:13.3, y1:381, xd:[1.86,17], yd:[-10.07,58.9],
  thin:[feExData1,feExData2,feExData3,feExData4,feExData5,feExData6],
  thick:[feExFit1,feExFit2,feExFit3,feExFit4,feExFit5,feExFit6],
  dashes: feExOffsets.map(o => [o,1.86,17]),
  yTicks:feExYTicks, yTickLen:7, yPad:5, xTicks:feExXTicks, xLabels:feExXLabels, xTickLen:5, xLabelY:28});
rotLabel(362, 201, 20, 'EXAFS xk', '3');
{ const t = svg.append('text').attr('x', 537).attr('y', 439).attr('text-anchor','middle');
  styleLabel(t, 20); t.append('tspan').text('k / Å'); t.append('tspan').text('-1').style('font-size','12.5px').attr('dy','-0.6em'); }

// ---- Panel C: Mn FT ----
drawPanel({id:'c', x0:76.7, x1:330, y0:461.7, y1:666.7, xd:[0,6], yd:[-0.48,7.52],
  thin:[mnFtData1,mnFtData2,mnFtData3],
  thick:[mnFtFit1,mnFtFit2,mnFtFit3],
  dashes: mnFtOffsets.map(o => o === 0 ? [0,0,4.5] : [o,0,0.85]),
  yTicks:mnFtYTicks, yTickLen:5, yPad:4, xTicks:ftXTicks, xLabels:[0,1,2,3,4,5,6], xTickLen:5, xLabelY:25});
const mnLabelPos = [[236,532],[238,585],[213,637]];
mnFtLabels.forEach((l,i) => richLabel(mnLabelPos[i][0], mnLabelPos[i][1], l, 21));
{ const t = svg.append('text').attr('x', 321).attr('y', 493).attr('text-anchor','end').text('Mn'); styleLabel(t, 25); }
rotLabel(35, 566, 19, 'FT of EXAFS');
{ const t = svg.append('text').attr('x', 203).attr('y', 717).attr('text-anchor','middle').text('reduced distance / Å'); styleLabel(t, 20); }

// ---- Panel D: Mn EXAFS ----
drawPanel({id:'d', x0:412.5, x1:686.1, y0:461, y1:666.7, xd:[1.38,12.5], yd:[-4.89,26.14],
  thin:[mnExData1,mnExData2,mnExData3],
  thick:[mnExFit1,mnExFit2,mnExFit3],
  dashes: mnExOffsets.map(o => [o,1.38,12.5]),
  yTicks:mnExYTicks, yTickLen:5, yPad:4, xTicks:mnExXTicks, xLabels:mnExXLabels, xTickLen:4, xLabelY:22});
rotLabel(366, 558, 19, 'EXAFS xk', '3');
{ const t = svg.append('text').attr('x', 537).attr('y', 713).attr('text-anchor','middle');
  styleLabel(t, 20); t.append('tspan').text('k / Å'); t.append('tspan').text('-1').style('font-size','12.5px').attr('dy','-0.6em'); }
</script>
</body></html>
